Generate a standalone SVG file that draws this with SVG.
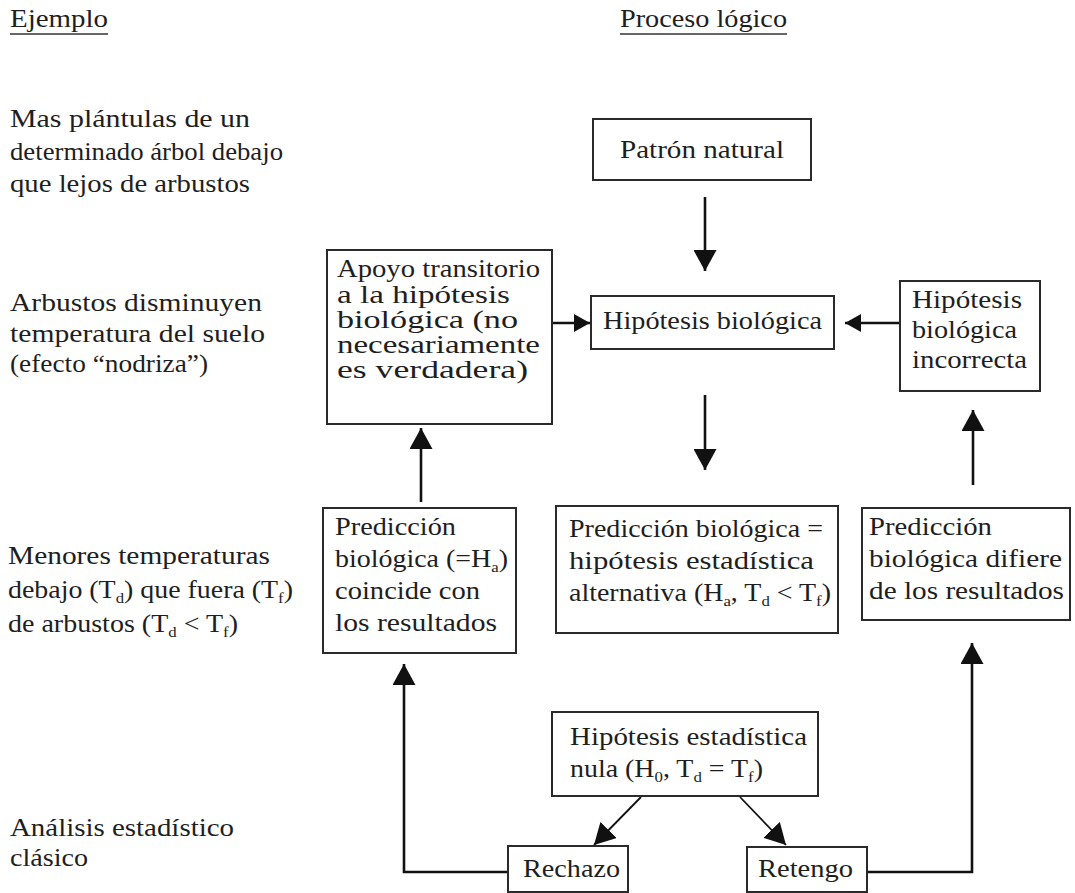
<svg xmlns="http://www.w3.org/2000/svg" width="1075" height="893" viewBox="0 0 1075 893">
<style>
text{font-family:"Liberation Serif","Times New Roman",serif;font-size:25px;fill:#1e1e1e}
.sub{font-size:15px}
.box{fill:#fff;stroke:#2a2a2a;stroke-width:2}
.conn{fill:none;stroke:#111;stroke-width:2.6}
.thin{fill:none;stroke:#111;stroke-width:1.8}
.ul{stroke:#333;stroke-width:1.5}
</style>
<defs>
<marker id="ah" markerUnits="userSpaceOnUse" viewBox="0 0 20 22" refX="20" refY="11" markerWidth="21" markerHeight="23" orient="auto">
<path d="M0,0 L20,11 L0,22 z" fill="#111"/>
</marker>
<marker id="ahs" markerUnits="userSpaceOnUse" viewBox="0 0 16 18" refX="16" refY="9" markerWidth="16" markerHeight="18" orient="auto">
<path d="M0,0 L16,9 L0,18 z" fill="#111"/>
</marker>
</defs>
<rect width="1075" height="893" fill="#fff"/>

<g id="headers">
<text x="10" y="27" textLength="98" lengthAdjust="spacingAndGlyphs">Ejemplo</text>
<line class="ul" x1="10" y1="34" x2="108" y2="34"/>
<text x="620" y="27" textLength="167" lengthAdjust="spacingAndGlyphs">Proceso lógico</text>
<line class="ul" x1="620" y1="34" x2="787" y2="34"/>
</g>

<g id="ejemplo-patron">
<text x="10" y="127" textLength="240" lengthAdjust="spacingAndGlyphs">Mas plántulas de un</text>
<text x="10" y="160" textLength="273" lengthAdjust="spacingAndGlyphs">determinado árbol debajo</text>
<text x="10" y="192" textLength="240" lengthAdjust="spacingAndGlyphs">que lejos de arbustos</text>
</g>
<g id="ejemplo-hipotesis">
<text x="10" y="311" textLength="252" lengthAdjust="spacingAndGlyphs">Arbustos disminuyen</text>
<text x="10" y="342" textLength="255" lengthAdjust="spacingAndGlyphs">temperatura del suelo</text>
<text x="10" y="372" textLength="198" lengthAdjust="spacingAndGlyphs">(efecto “nodriza”)</text>
</g>
<g id="ejemplo-prediccion">
<text x="8" y="564" textLength="262" lengthAdjust="spacingAndGlyphs">Menores temperaturas</text>
<text x="8" y="598" textLength="285" lengthAdjust="spacingAndGlyphs">debajo (T<tspan class="sub" dy="5">d</tspan><tspan dy="-5">) que fuera (T</tspan><tspan class="sub" dy="5">f</tspan><tspan dy="-5">)</tspan></text>
<text x="8" y="632" textLength="230" lengthAdjust="spacingAndGlyphs">de arbustos (T<tspan class="sub" dy="5">d</tspan><tspan dy="-5"> &lt; T</tspan><tspan class="sub" dy="5">f</tspan><tspan dy="-5">)</tspan></text>
</g>
<g id="ejemplo-analisis">
<text x="10" y="836" textLength="224" lengthAdjust="spacingAndGlyphs">Análisis estadístico</text>
<text x="10" y="866" textLength="78" lengthAdjust="spacingAndGlyphs">clásico</text>
</g>

<g id="connectors">
<line class="conn" x1="705" y1="197" x2="705" y2="271" marker-end="url(#ah)"/>
<line class="conn" x1="705" y1="395" x2="705" y2="470" marker-end="url(#ah)"/>
<line class="conn" x1="552" y1="323" x2="590" y2="323" marker-end="url(#ahs)"/>
<line class="conn" x1="900" y1="323" x2="845" y2="323" marker-end="url(#ahs)"/>
<line class="conn" x1="421" y1="502" x2="421" y2="428" marker-end="url(#ah)"/>
<line class="conn" x1="973" y1="485" x2="973" y2="410" marker-end="url(#ah)"/>
<line class="thin" x1="641" y1="797" x2="594" y2="845" marker-end="url(#ah)"/>
<line class="thin" x1="740" y1="797" x2="786" y2="845" marker-end="url(#ah)"/>
<polyline class="conn" points="508,872 404,872 404,664" marker-end="url(#ah)"/>
<polyline class="conn" points="867,872 972,872 972,643" marker-end="url(#ah)"/>
</g>

<g id="patron-natural">
<rect class="box" x="593" y="119" width="218" height="61"/>
<text x="620" y="158" textLength="164" lengthAdjust="spacingAndGlyphs">Patrón natural</text>
</g>
<g id="hipotesis-biologica">
<rect class="box" x="591" y="296" width="243" height="53"/>
<text x="603" y="329" textLength="219" lengthAdjust="spacingAndGlyphs">Hipótesis biológica</text>
</g>
<g id="apoyo-transitorio">
<rect class="box" x="327" y="250" width="225" height="174"/>
<text x="337" y="277" textLength="203" lengthAdjust="spacingAndGlyphs">Apoyo transitorio</text>
<text x="337" y="303" textLength="173" lengthAdjust="spacingAndGlyphs">a la hipótesis</text>
<text x="337" y="328" textLength="181" lengthAdjust="spacingAndGlyphs">biológica (no</text>
<text x="337" y="353" textLength="203" lengthAdjust="spacingAndGlyphs">necesariamente</text>
<text x="337" y="378" textLength="191" lengthAdjust="spacingAndGlyphs">es verdadera)</text>
</g>
<g id="hipotesis-incorrecta">
<rect class="box" x="900" y="281" width="140" height="110"/>
<text x="912" y="308" textLength="110" lengthAdjust="spacingAndGlyphs">Hipótesis</text>
<text x="912" y="338" textLength="105" lengthAdjust="spacingAndGlyphs">biológica</text>
<text x="912" y="368" textLength="115" lengthAdjust="spacingAndGlyphs">incorrecta</text>
</g>
<g id="prediccion-coincide">
<rect class="box" x="323" y="508" width="193" height="145"/>
<text x="335" y="535" textLength="121" lengthAdjust="spacingAndGlyphs">Predicción</text>
<text x="335" y="567" textLength="173" lengthAdjust="spacingAndGlyphs">biológica (=H<tspan class="sub" dy="5">a</tspan><tspan dy="-5">)</tspan></text>
<text x="335" y="599" textLength="145" lengthAdjust="spacingAndGlyphs">coincide con</text>
<text x="335" y="631" textLength="162" lengthAdjust="spacingAndGlyphs">los resultados</text>
</g>
<g id="prediccion-alternativa">
<rect class="box" x="556" y="506" width="282" height="127"/>
<text x="569" y="537" textLength="254" lengthAdjust="spacingAndGlyphs">Predicción biológica =</text>
<text x="569" y="569" textLength="245" lengthAdjust="spacingAndGlyphs">hipótesis estadística</text>
<text x="569" y="601" textLength="262" lengthAdjust="spacingAndGlyphs">alternativa (H<tspan class="sub" dy="5">a</tspan><tspan dy="-5">, T</tspan><tspan class="sub" dy="5">d</tspan><tspan dy="-5"> &lt; T</tspan><tspan class="sub" dy="5">f</tspan><tspan dy="-5">)</tspan></text>
</g>
<g id="prediccion-difiere">
<rect class="box" x="862" y="508" width="208" height="112"/>
<text x="869" y="535" textLength="123" lengthAdjust="spacingAndGlyphs">Predicción</text>
<text x="869" y="567" textLength="193" lengthAdjust="spacingAndGlyphs">biológica difiere</text>
<text x="869" y="599" textLength="195" lengthAdjust="spacingAndGlyphs">de los resultados</text>
</g>
<g id="hipotesis-nula">
<rect class="box" x="552" y="712" width="266" height="84"/>
<text x="570" y="745" textLength="237" lengthAdjust="spacingAndGlyphs">Hipótesis estadística</text>
<text x="570" y="777" textLength="193" lengthAdjust="spacingAndGlyphs">nula (H<tspan class="sub" dy="5">0</tspan><tspan dy="-5">, T</tspan><tspan class="sub" dy="5">d</tspan><tspan dy="-5"> = T</tspan><tspan class="sub" dy="5">f</tspan><tspan dy="-5">)</tspan></text>
</g>
<g id="rechazo">
<rect class="box" x="508" y="846" width="120" height="46"/>
<text x="523" y="877" textLength="97" lengthAdjust="spacingAndGlyphs">Rechazo</text>
</g>
<g id="retengo">
<rect class="box" x="747" y="847" width="120" height="45"/>
<text x="758" y="877" textLength="95" lengthAdjust="spacingAndGlyphs">Retengo</text>
</g>
</svg>
